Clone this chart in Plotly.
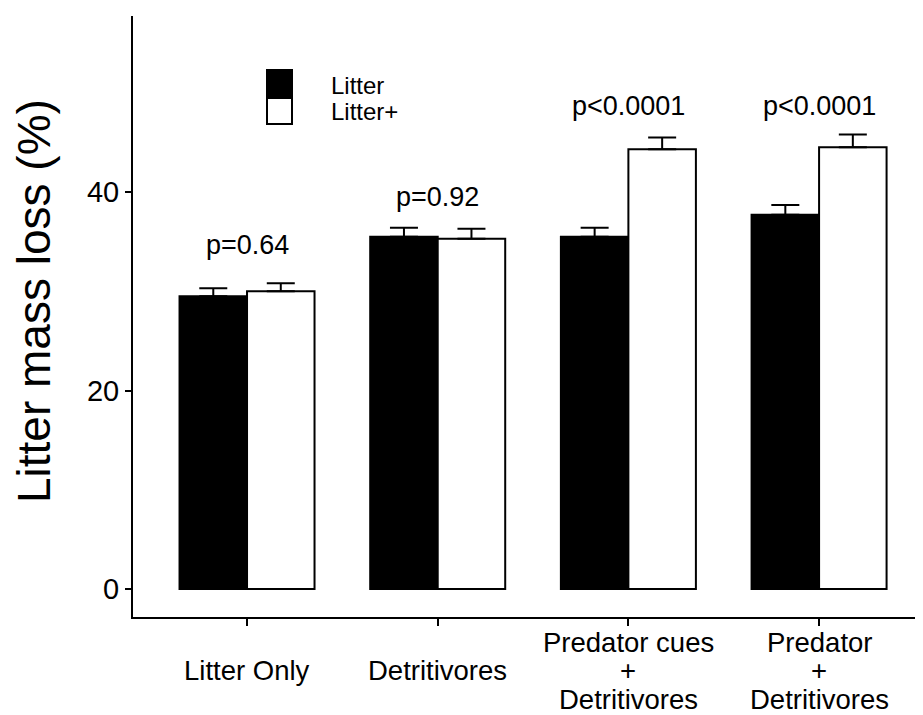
import plotly.graph_objects as go

# ---------------- data ----------------
categories = ["Litter Only", "Detritivores",
              "Predator cues<br>+<br>Detritivores", "Predator<br>+<br>Detritivores"]
series_names = ["Litter", "Litter+"]
litter_vals = [29.5, 35.5, 35.5, 37.7]
litter_err = [0.8, 0.9, 0.9, 1.0]
litterplus_vals = [30.0, 35.3, 44.3, 44.5]
litterplus_err = [0.8, 1.0, 1.2, 1.3]
p_labels = ["p=0.64", "p=0.92", "p<0.0001", "p<0.0001"]
y_ticks = [0, 20, 40]
y_title = "Litter mass loss (%)"

# ---------------- layout constants ----------------
# the page body has an 8px margin, so the figure is placed at (8, 8)
OFF = 8
W, H = 923 - OFF, 715 - OFF
ML, MR, MT, MB = 133 - OFF, 0, 16 - OFF, 98
PW, PH = W - ML - MR, H - MT - MB
FONT = "Liberation Sans, Arial, sans-serif"
p_label_y = [34.7, 39.5, 48.7, 48.7]


def px_x(px):
    """screen x pixel -> paper coordinate"""
    return (px - OFF - ML) / PW


def px_y(py):
    """screen y pixel -> paper coordinate"""
    return (H - MB - (py - OFF)) / PH


fig = go.Figure()
fig.add_trace(go.Bar(
    name=series_names[0], x=categories, y=litter_vals,
    marker=dict(color="black", line=dict(color="black", width=2)),
    error_y=dict(type="data", array=litter_err, arrayminus=[0] * len(litter_err),
                 symmetric=False, color="black", thickness=2, width=14),
    showlegend=False,
))
fig.add_trace(go.Bar(
    name=series_names[1], x=categories, y=litterplus_vals,
    marker=dict(color="white", line=dict(color="black", width=2)),
    error_y=dict(type="data", array=litterplus_err, arrayminus=[0] * len(litterplus_err),
                 symmetric=False, color="black", thickness=2, width=14),
    showlegend=False,
))

annotations = []
# p-value labels
for cat, txt, yv in zip(categories, p_labels, p_label_y):
    annotations.append(dict(x=cat, y=yv, xref="x", yref="y", text=txt, showarrow=False,
                            xanchor="center", yanchor="middle",
                            font=dict(family=FONT, size=27, color="black")))

# category labels (one annotation per line for tight line spacing)
axis_py = 617  # screen y of the x axis line
line_gap = 28.5
mid_py = 670.5
for cat in categories:
    lines = cat.split("<br>")
    n = len(lines)
    for i, ln in enumerate(lines):
        py = mid_py + (i - (n - 1) / 2) * line_gap
        annotations.append(dict(x=cat, y=0, xref="x", yref="paper", text=ln, showarrow=False,
                                xanchor="center", yanchor="middle", yshift=-(py - axis_py),
                                borderpad=0,
                                font=dict(family=FONT, size=27.5, color="black")))

# y-axis title
annotations.append(dict(x=px_x(34), y=px_y(301), xref="paper", yref="paper", text=y_title,
                        textangle=-90, showarrow=False, xanchor="center", yanchor="middle",
                        font=dict(family=FONT, size=46, color="black")))

# legend (drawn manually for large square keys)
legend_fills = ["black", "white"]
legend_rows = [(70, 96, 85.5), (98, 124, 112)]
shapes = []
for name, fill, (y0, y1, ty) in zip(series_names, legend_fills, legend_rows):
    shapes.append(dict(type="rect", xref="paper", yref="paper",
                       x0=px_x(267), x1=px_x(292), y0=px_y(y1), y1=px_y(y0),
                       fillcolor=fill, line=dict(color="black", width=2)))
    annotations.append(dict(x=px_x(329), y=px_y(ty), xref="paper", yref="paper", text=name,
                            showarrow=False, xanchor="left", yanchor="middle",
                            font=dict(family=FONT, size=24, color="black")))

fig.update_layout(
    width=W, height=H,
    margin=dict(l=ML, r=MR, t=MT, b=MB, pad=0),
    paper_bgcolor="white", plot_bgcolor="white",
    barmode="group", bargap=0.292, bargroupgap=0,
    font=dict(family=FONT, color="black"),
    annotations=annotations, shapes=shapes,
    xaxis=dict(range=[-0.598, 3.545], showline=True, linecolor="black", linewidth=2,
               ticks="outside", ticklen=7, tickwidth=2, tickcolor="black",
               showticklabels=False, showgrid=False, zeroline=False),
    yaxis=dict(range=[-2.82, 57.73], tickvals=y_ticks, showline=True, linecolor="black",
               linewidth=2, ticks="outside", ticklen=6, tickwidth=2, tickcolor="black",
               tickfont=dict(family=FONT, size=29, color="black"),
               showgrid=False, zeroline=False),
)

fig.write_html("out.html")
